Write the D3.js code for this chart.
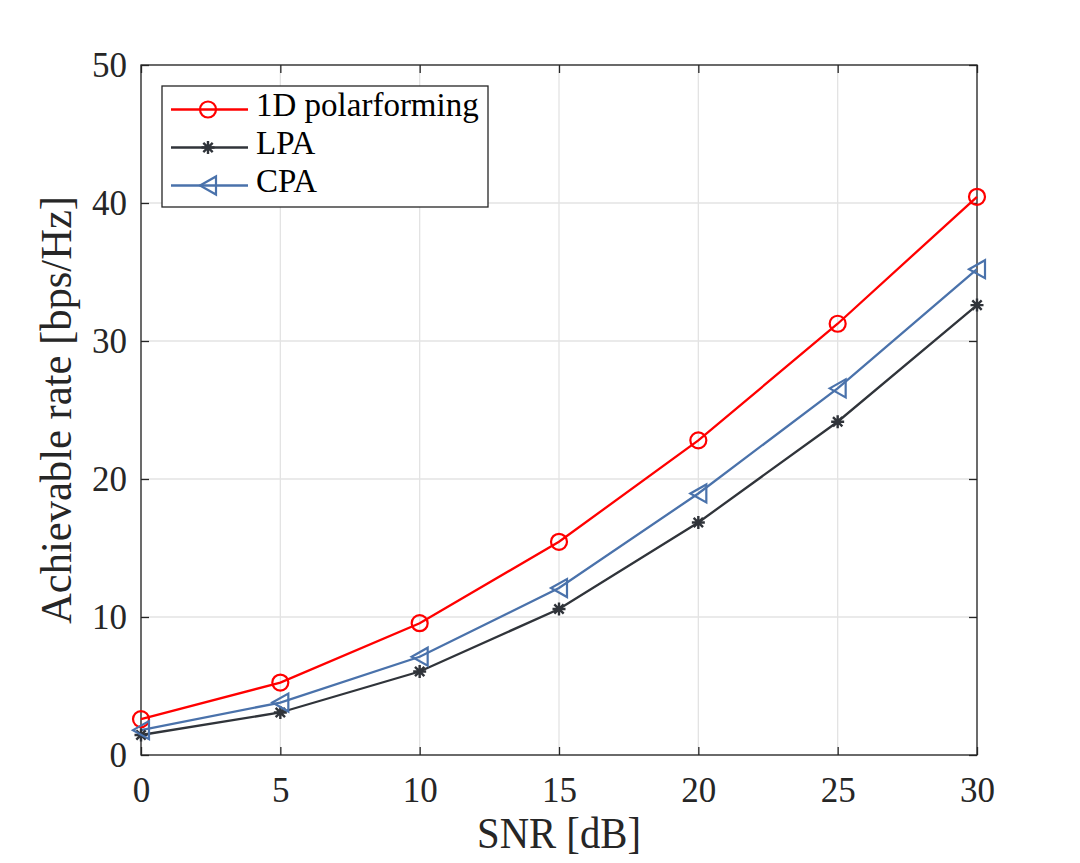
<!DOCTYPE html>
<html>
<head>
<meta charset="utf-8">
<script src="https://cdn.jsdelivr.net/npm/d3@7"></script>
<style>
  html, body { margin: 0; padding: 0; background: #fff; }
  svg text { font-family: "Liberation Serif", "DejaVu Serif", serif; fill: #262626; }
</style>
</head>
<body>
<div id="chart"></div>
<script>
const snr = [0, 5, 10, 15, 20, 25, 30];
const rate1D  = [2.6, 5.25, 9.55, 15.45, 22.8, 31.25, 40.45];
const rateLPA = [1.45, 3.08, 6.05, 10.58, 16.85, 24.15, 32.6];
const rateCPA = [1.8, 3.8, 7.12, 12.1, 18.95, 26.57, 35.2];
const xTicks = [0, 5, 10, 15, 20, 25, 30];
const yTicks = [0, 10, 20, 30, 40, 50];

const series = [
  { name: '1D polarforming', values: rate1D,  color: '#ff0000', marker: 'circle' },
  { name: 'LPA',             values: rateLPA, color: '#30343a', marker: 'star' },
  { name: 'CPA',             values: rateCPA, color: '#4a72ab', marker: 'triangle' }
];

const W = 1080, H = 863;
const margin = { top: 65, right: 103, bottom: 108, left: 141 };
const iW = W - margin.left - margin.right;
const iH = H - margin.top - margin.bottom;

const svg = d3.select('#chart').append('svg').attr('width', W).attr('height', H);
svg.append('rect').attr('width', W).attr('height', H).attr('fill', '#fff');
const g = svg.append('g').attr('transform', `translate(${margin.left},${margin.top})`);

const x = d3.scaleLinear().domain([0, 30]).range([0, iW]);
const y = d3.scaleLinear().domain([0, 50]).range([iH, 0]);

// grid
g.selectAll('.gx').data(xTicks).join('line')
  .attr('x1', d => x(d)).attr('x2', d => x(d)).attr('y1', 0).attr('y2', iH)
  .attr('stroke', '#e3e3e3').attr('stroke-width', 1.3);
g.selectAll('.gy').data(yTicks).join('line')
  .attr('x1', 0).attr('x2', iW).attr('y1', d => y(d)).attr('y2', d => y(d))
  .attr('stroke', '#e3e3e3').attr('stroke-width', 1.3);

// axes (ticks inward on all four sides)
const axisColor = '#262626';
const tk = 8;
function styleAxis(sel) {
  sel.select('.domain').remove();
  sel.selectAll('.tick line').attr('stroke', axisColor).attr('stroke-width', 1.3);
  sel.selectAll('.tick text').attr('font-family', '"Liberation Serif", serif')
    .attr('font-size', 35).attr('fill', '#262626');
}
g.append('g').attr('transform', `translate(0,${iH})`)
  .call(d3.axisBottom(x).tickValues(xTicks).tickSizeInner(-tk).tickSizeOuter(0).tickPadding(22))
  .call(styleAxis);
g.append('g')
  .call(d3.axisLeft(y).tickValues(yTicks).tickSizeInner(-tk).tickSizeOuter(0).tickPadding(14))
  .call(styleAxis);
g.append('g')
  .call(d3.axisTop(x).tickValues(xTicks).tickSizeInner(-tk).tickSizeOuter(0).tickFormat(''))
  .call(styleAxis);
g.append('g').attr('transform', `translate(${iW},0)`)
  .call(d3.axisRight(y).tickValues(yTicks).tickSizeInner(-tk).tickSizeOuter(0).tickFormat(''))
  .call(styleAxis);
g.append('rect').attr('width', iW).attr('height', iH)
  .attr('fill', 'none').attr('stroke', axisColor).attr('stroke-width', 1.3);

// markers
function drawMarker(sel, type, color) {
  if (type === 'circle') {
    sel.append('circle').attr('r', 8).attr('fill', 'none')
      .attr('stroke', color).attr('stroke-width', 2.2);
  } else if (type === 'star') {
    const r = 6.5;
    const d = `M${-r},0L${r},0M0,${-r}L0,${r}` +
      `M${-r*0.72},${-r*0.72}L${r*0.72},${r*0.72}M${-r*0.72},${r*0.72}L${r*0.72},${-r*0.72}`;
    sel.append('path').attr('d', d).attr('fill', 'none')
      .attr('stroke', color).attr('stroke-width', 2.4);
  } else {
    const h = 9, w = 8;
    sel.append('path').attr('d', `M${-w},0L${w},${-h}L${w},${h}Z`)
      .attr('fill', 'none').attr('stroke', color).attr('stroke-width', 2.2)
      .attr('stroke-linejoin', 'miter');
  }
}

const line = d3.line().x((d, i) => x(snr[i])).y(d => y(d));
series.forEach(s => {
  g.append('path').datum(s.values).attr('d', line)
    .attr('fill', 'none').attr('stroke', s.color).attr('stroke-width', 2.3);
});
series.forEach(s => {
  s.values.forEach((v, i) => {
    const m = g.append('g').attr('transform', `translate(${x(snr[i])},${y(v)})`);
    drawMarker(m, s.marker, s.color);
  });
});

// axis labels
svg.append('text').attr('x', margin.left + iW / 2).attr('y', 848)
  .attr('text-anchor', 'middle').attr('font-size', 44)
  .attr('textLength', 164).attr('lengthAdjust', 'spacingAndGlyphs')
  .text('SNR [dB]');
svg.append('text').attr('transform', `translate(71,${margin.top + iH / 2}) rotate(-90)`)
  .attr('text-anchor', 'middle').attr('font-size', 44)
  .attr('textLength', 428).attr('lengthAdjust', 'spacingAndGlyphs')
  .text('Achievable rate [bps/Hz]');

// legend
const lg = svg.append('g').attr('transform', 'translate(162,86)');
lg.append('rect').attr('width', 326).attr('height', 121)
  .attr('fill', '#fff').attr('stroke', axisColor).attr('stroke-width', 1.3);
series.forEach((s, i) => {
  const cy = 23.5 + i * 38;
  lg.append('line').attr('x1', 9).attr('x2', 86).attr('y1', cy).attr('y2', cy)
    .attr('stroke', s.color).attr('stroke-width', 2.3);
  const m = lg.append('g').attr('transform', `translate(46,${cy})`);
  drawMarker(m, s.marker, s.color);
  lg.append('text').attr('x', 94).attr('y', cy + 6).attr('font-size', 33)
    .style('fill', '#000').text(s.name);
});
</script>
</body>
</html>
